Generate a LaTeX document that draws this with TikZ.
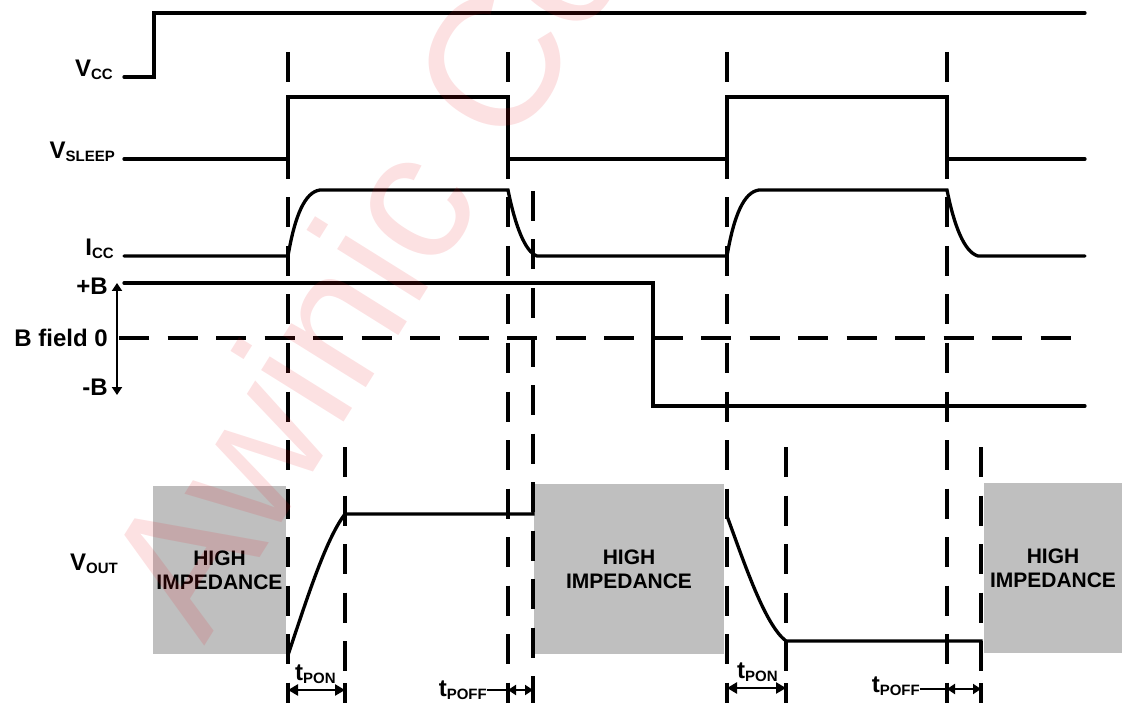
\documentclass[tikz,border=0pt]{standalone}
\usepackage{fontspec}
\setmainfont{Liberation Sans}
\usetikzlibrary{arrows.meta, positioning, calc}
\definecolor{hizgray}{HTML}{BFBFBF}
\definecolor{markred}{HTML}{E8141E}
\newcommand{\sgl}[2]{#1\raisebox{-3pt}{\fontsize{15}{15}\selectfont #2}}
\tikzset{
  wave/.style={line width=3.3pt, line cap=round, line join=miter},
  guide/.style={line width=3.3pt, dash pattern=on 30pt off 18.5pt},
  sig/.style={inner sep=0pt, anchor=base east,
    font=\fontsize{24}{24}\selectfont\bfseries},
  tlbl/.style={inner sep=0pt,
    font=\fontsize{24}{24}\selectfont\bfseries},
  hiz/.style={rectangle, fill=hizgray, draw=none, inner sep=0pt,
    align=center, font=\fontsize{21}{24}\selectfont\bfseries},
  tarrow/.style={{Triangle[length=10pt,width=11pt]}-{Triangle[length=10pt,width=11pt]},
    line width=2.8pt},
  sarrow/.style={{Triangle[length=8pt,width=10pt]}-{Triangle[length=8pt,width=10pt]},
    line width=2.8pt},
  tick/.style={line width=3.3pt},
  wmark/.style={inner sep=0pt, text=markred, opacity=0.13,
    font=\fontsize{184}{184}\selectfont}
}

\begin{document}
\begin{tikzpicture}[x=1pt, y=-1pt]
  \useasboundingbox (0,0) rectangle (1122,703);

  % Zonas de alta impedancia
  \node[hiz, minimum width=133pt, minimum height=168pt] (hz1) at (219.5,570) {HIGH\\IMPEDANCE};
  \node[hiz, minimum width=190pt, minimum height=170pt] (hz2) at (629,569) {HIGH\\IMPEDANCE};
  \node[hiz, minimum width=138pt, minimum height=170pt] (hz3) at (1053,568) {HIGH\\IMPEDANCE};

  % Etiquetas de las senales
  \node[sig] (vcc) at (113,77) {\sgl{V}{CC}};
  \node[sig] (vsleep) at (115,159) {\sgl{V}{SLEEP}};
  \node[sig] (icc) at (114,256) {\sgl{I}{CC}};
  \node[sig] (bpos) at (108,295) {+B};
  \node[sig] (bzero) at (108,347) {B field 0};
  \node[sig] (bneg) at (108,395) {-B};
  \node[sig] (vout) at (118,570) {\sgl{V}{OUT}};

  % Formas de onda
  \draw[wave] (124,77) -- (154,77) -- (154,13) -- (1085,13);
  \draw[wave] (124,159) -- (288,159) -- (288,97) -- (508,97) -- (508,159)
    -- (727,159) -- (727,97) -- (947,97) -- (947,159) -- (1085,159);
  \draw[wave] (124,256) -- (288,256) .. controls (295,215) and (305,192) .. (320,190)
    -- (508,190) .. controls (515,225) and (525,252) .. (537,256)
    -- (727,256) .. controls (734,215) and (744,192) .. (759,190)
    -- (947,190) .. controls (954,225) and (964,252) .. (978,256) -- (1085,256);
  \draw[wave] (124,283) -- (653,283) -- (653,406) -- (1085,406);
  \draw[guide] (119,338) -- (1085,338);
  \draw[sarrow] (117,283) -- (117,395);
  \draw[wave] (288,655) .. controls (305,605) and (325,540) .. (345,514)
    -- (533,514) -- (533,484);
  \draw[wave] (727,516) .. controls (745,565) and (765,625) .. (786,641)
    -- (981,641) -- (981,654);

  % Lineas de referencia
  \foreach \x/\y in {288/52, 508/52, 727/52, 947/52,
                     345/447, 533/191, 786/447, 981/447}{%
    \draw[guide] (\x,\y) -- (\x,703);}
  \foreach \x in {288, 345, 508, 533, 727, 786, 947, 981}{%
    \draw[tick] (\x,683) -- (\x,703);}

  % Tiempos
  \node[tlbl, anchor=base west] (tpon1) at (295,680) {\sgl{t}{PON}};
  \node[tlbl, anchor=base west] (tpon2) at (737,678) {\sgl{t}{PON}};
  \node[tlbl, anchor=base east] (tpoff1) at (487,696) {\sgl{t}{POFF}};
  \node[tlbl, anchor=base east] (tpoff2) at (920,692) {\sgl{t}{POFF}};
  \draw[tarrow] (288,690) -- (345,690);
  \draw[tarrow] (727,688) -- (786,688);
  \draw[line width=2.8pt] (tpoff1.east |- 0,690) -- (508,690);
  \draw[sarrow] (508,690) -- (533,690);
  \draw[line width=2.8pt] (tpoff2.east |- 0,689) -- (947,689);
  \draw[sarrow] (947,689) -- (981,689);

  % Marca de agua
  \begin{scope}
    \clip (0,0) rectangle (1122,703);
    \node[wmark, anchor=base west, rotate=58] (wm) at (204,647) {Awinic Confidential};
  \end{scope}
\end{tikzpicture}
\end{document}
